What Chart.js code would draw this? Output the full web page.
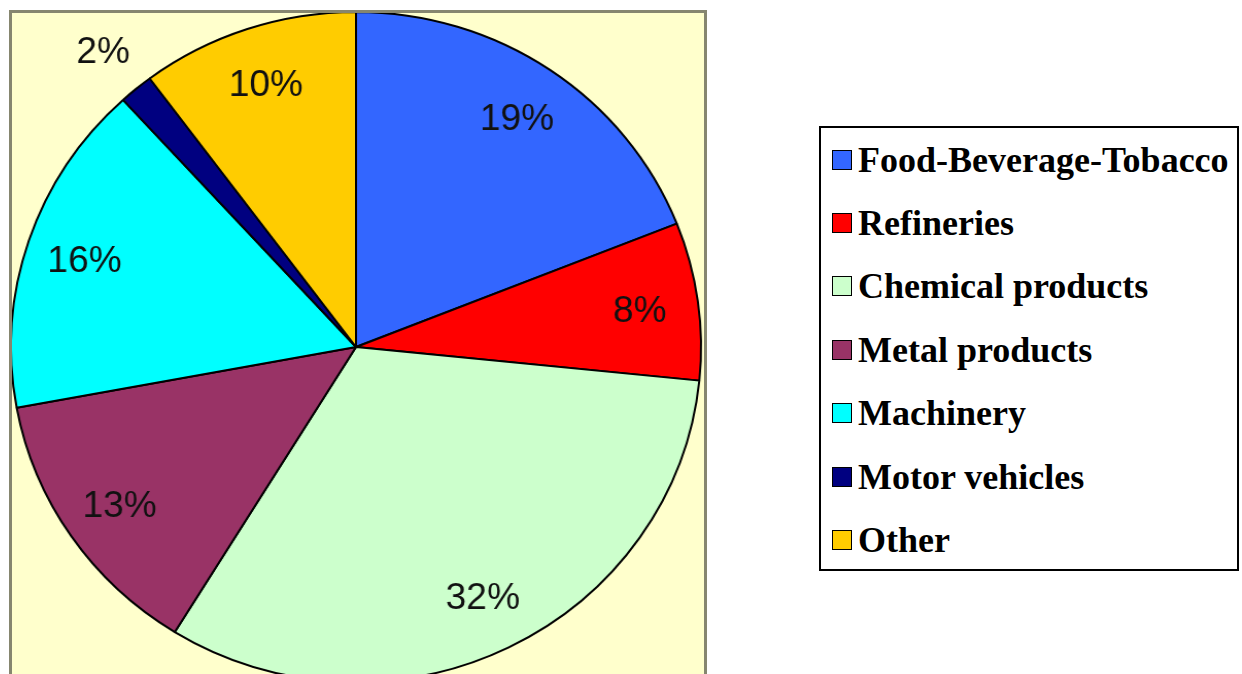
<!DOCTYPE html>
<html>
<head>
<meta charset="utf-8">
<script src="https://cdn.jsdelivr.net/npm/chart.js@4"></script>
<style>
    body { margin: 0; width: 1242px; height: 674px; overflow: hidden; background: #fff; position: relative; }
    #panel {
        position: absolute; left: 9px; top: 10px; width: 692px; height: 700px;
        border: 3px solid #86866f; background: #ffffcc; overflow: hidden;
    }
    #pie-wrap {
        position: absolute; left: -16px; top: -26px; width: 720px; height: 720px;
        transform: scaleX(1.03); transform-origin: 360px 360px;
    }
    #legend {
        position: absolute; left: 819px; top: 126px; width: 420px; height: 445px;
        box-sizing: border-box; border: 2px solid #000; background: #fff;
    }
    .legend-row { height: 63.4px; display: flex; align-items: center; }
    .legend-box { width: 18px; height: 18px; border: 1px solid #000; margin-left: 11px; }
    .legend-text {
        margin-left: 6px; font: bold 36px "Liberation Serif", "Times New Roman", serif;
        color: #000; white-space: nowrap;
    }
</style>
</head>
<body>
<div id="panel">
    <div id="pie-wrap"><canvas id="pie-chart"></canvas></div>
</div>
<div id="legend"></div>

<script>
// Share of industry sectors (%), clockwise from 12 o'clock
const sectors = ['Food-Beverage-Tobacco', 'Refineries', 'Chemical products', 'Metal products', 'Machinery', 'Motor vehicles', 'Other'];
const shares = [19.0, 7.6, 32.2, 13.3, 16.1, 1.6, 10.2];
const sliceColors = ['#3366ff', '#ff0000', '#ccffcc', '#993366', '#00ffff', '#000080', '#ffcc00'];

// --- Legend box (built from the same arrays) ---
const legendElement = document.getElementById('legend');
sectors.forEach((name, i) => {
    legendElement.innerHTML += `<div class="legend-row"><div class="legend-box" style="background:${sliceColors[i]}"></div><span class="legend-text">${name}</span></div>`;
});

/**
 * Writes the rounded percentage on each slice; tiny slices get it outside the rim.
 */
const percentLabels = {
    id: 'percentLabels',
    afterDatasetsDraw(chart) {
        const ctx = chart.ctx;
        const meta = chart.getDatasetMeta(0);
        ctx.save();
        ctx.font = '36px "Liberation Sans", Arial, sans-serif';
        ctx.fillStyle = '#111';
        ctx.textAlign = 'center';
        ctx.textBaseline = 'middle';
        meta.data.forEach((arc, i) => {
            const { x, y, startAngle, endAngle, outerRadius } = arc.getProps(['x', 'y', 'startAngle', 'endAngle', 'outerRadius'], true);
            const mid = (startAngle + endAngle) / 2;
            const r = outerRadius * (shares[i] < 5 ? 1.15 : 0.83);
            ctx.fillText(Math.round(shares[i]) + '%', x + Math.cos(mid) * r, y + Math.sin(mid) * r + 3);
        });
        ctx.restore();
    }
};

new Chart(document.getElementById('pie-chart').getContext('2d'), {
    type: 'pie',
    data: {
        labels: sectors,
        datasets: [{
            data: shares,
            backgroundColor: sliceColors,
            borderColor: '#000',
            borderWidth: 2,
            radius: 335
        }]
    },
    options: {
        responsive: true,
        maintainAspectRatio: false,
        animation: false,
        events: [],
        layout: { padding: 0 },
        plugins: { legend: { display: false }, tooltip: { enabled: false } }
    },
    plugins: [percentLabels]
});
</script>
</body>
</html>
